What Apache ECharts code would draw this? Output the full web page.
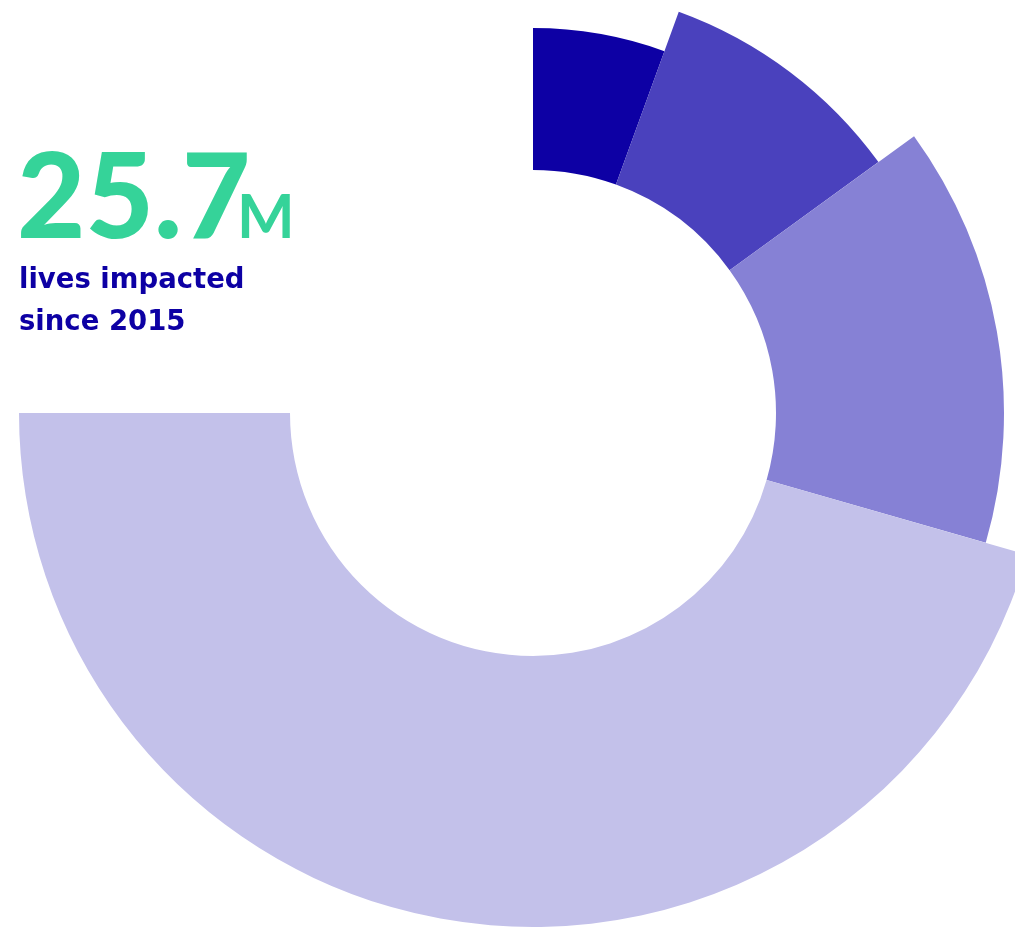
<!DOCTYPE html>
<html>
<head>
<meta charset="utf-8">
<style>
  html, body { margin: 0; padding: 0; background: #ffffff; }
  #chart { width: 1015px; height: 928px; }
</style>
<script src="https://cdn.jsdelivr.net/npm/echarts@6/dist/echarts.min.js"></script>
</head>
<body>
<div id="chart"></div>
<script>
// ---- data ----
const categories = ['Segment 1', 'Segment 2', 'Segment 3', 'Segment 4'];
const values = [1.9, 3.24, 4.95, 15.61];   // millions of lives (angles)
const headlineValue = '25.7';
const headlineUnit = 'M';
const subtitleLines = ['lives impacted', 'since 2015'];

// ---- styles ----
const colors = ['#0d00a4', '#4a41bd', '#8681d5', '#c3c1ea'];
const outerRadii = [385, 427, 471, 514];
const innerRadius = 243;
const center = [533, 413];

const chart = echarts.init(document.getElementById('chart'), null, { renderer: 'canvas' });

const series = categories.map((name, i) => ({
  type: 'pie',
  center: center,
  radius: [innerRadius, outerRadii[i]],
  startAngle: 90,
  endAngle: -180,
  clockwise: true,
  silent: true,
  animation: false,
  label: { show: false },
  labelLine: { show: false },
  emphasis: { disabled: true },
  data: categories.map((c, j) => ({
    name: c,
    value: values[j],
    itemStyle: {
      color: j === i ? colors[j] : 'rgba(0,0,0,0)',
      borderWidth: 0
    }
  }))
}));

const option = {
  backgroundColor: '#ffffff',
  animation: false,
  series: series,
  graphic: [
    {
      type: 'text',
      left: 17,
      top: 141,
      style: {
        text: headlineValue,
        font: '900 118px Lato',
        fill: '#35d399'
      }
    },
    {
      type: 'text',
      left: 237,
      top: 188,
      style: {
        text: headlineUnit,
        font: '700 61px Lato',
        fill: '#35d399'
      }
    },
    {
      type: 'text',
      left: 19,
      top: 260,
      style: {
        text: subtitleLines.join('\n'),
        font: 'bold 27.5px "DejaVu Sans"',
        lineHeight: 42,
        fill: '#0d00a4'
      }
    }
  ]
};

chart.setOption(option);
</script>
</body>
</html>
